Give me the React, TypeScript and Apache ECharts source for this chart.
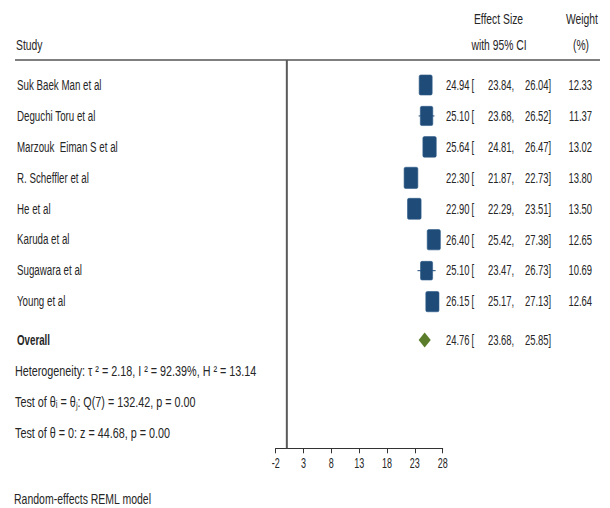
import React, { useEffect, useRef } from "react";
import * as echarts from "echarts";

const studies = [
  "Suk Baek Man et al",
  "Deguchi Toru et al",
  "Marzouk  Eiman S et al",
  "R. Scheffler et al",
  "He et al",
  "Karuda et al",
  "Sugawara et al",
  "Young et al",
];
const effects = [24.94, 25.1, 25.64, 22.3, 22.9, 26.4, 25.1, 26.15];
const lowers = [23.84, 23.68, 24.81, 21.87, 22.29, 25.42, 23.47, 25.17];
const uppers = [26.04, 26.52, 26.47, 22.73, 23.51, 27.38, 26.73, 27.13];
const weights = [12.33, 11.37, 13.02, 13.8, 13.5, 12.65, 10.69, 12.64];

const overallLabel = "Overall";
const overallEffect = 24.76;
const overallLower = 23.68;
const overallUpper = 25.85;
const overallRow = 8.24;

const xTickLabels = [-2, 3, 8, 13, 18, 23, 28];

const statLines = [
  "Heterogeneity: τ ² = 2.18, I ² = 92.39%, H ² = 13.14",
  "Test of θᵢ = θⱼ: Q(7) = 132.42, p = 0.00",
  "Test of θ = 0: z = 44.68, p = 0.00",
];
const footnote = "Random-effects REML model";

const NAVY = "#1f4b78";
const GREEN = "#5b7d2b";
const TXT = "#262626";
const FONT = "'Liberation Sans', Arial, sans-serif";
const FS = 15;
const SX_NUM = 0.63;
const SX_LABEL = 0.65;
const SX_HEAD = 0.69;
const SX_STAT = 0.72;
const Y_MIN = -0.808;
const Y_MAX = 11.74;

function txt(
  text: string,
  x: number,
  y: number,
  sx: number,
  align: string = "left",
  bold: boolean = false,
  fs: number = FS
): any {
  return {
    type: "text",
    x,
    y,
    scaleX: sx,
    silent: true,
    style: {
      text,
      x: 0,
      y: 0,
      fill: TXT,
      fontSize: fs,
      fontFamily: FONT,
      fontWeight: bold ? "bold" : "normal",
      align,
      textAlign: align,
      verticalAlign: "middle",
      textVerticalAlign: "middle",
    },
  };
}

const COL_EST = 446;
const COL_BR = 471.5;
const COL_LO = 488;
const COL_HI = 525;
const COL_W = 592;
const COL_LABEL = 17;

export default function App() {
  const ref = useRef<HTMLDivElement>(null);

  useEffect(() => {
    if (!ref.current) return;
    const chart = echarts.init(ref.current, null, { renderer: "svg" });

    const studyData = studies.map((s, i) => [
      effects[i],
      i,
      lowers[i],
      uppers[i],
      weights[i],
    ]);

    const option: any = {
      animation: false,
      backgroundColor: "#ffffff",
      grid: { left: 275.7, right: 167.3, top: 60, bottom: 59.7 },
      xAxis: {
        type: "value",
        min: xTickLabels[0],
        max: xTickLabels[xTickLabels.length - 1],
        interval: xTickLabels[1] - xTickLabels[0],
        splitLine: { show: false },
        axisLine: { show: true, onZero: false, lineStyle: { color: "#333", width: 1 } },
        axisTick: { show: true, length: 5, lineStyle: { color: "#333", width: 1 } },
        axisLabel: { show: false },
      },
      yAxis: {
        type: "value",
        inverse: true,
        min: Y_MIN,
        max: Y_MAX,
        show: false,
      },
      graphic: [
        {
          type: "line",
          shape: { x1: 15, y1: 60, x2: 600, y2: 60 },
          style: { stroke: "#555", lineWidth: 1.5 },
          silent: true,
        },
        txt("Study", 16, 45, SX_HEAD),
        txt("Effect Size", 498.5, 18.7, SX_HEAD, "center"),
        txt("with 95% CI", 499, 45, SX_HEAD, "center"),
        txt("Weight", 582, 18.7, SX_HEAD, "center"),
        txt("(%)", 581, 45, SX_HEAD, "center"),
        txt(statLines[0], 15, 370.7, SX_STAT),
        txt(statLines[1], 15, 401.7, SX_STAT),
        txt(statLines[2], 15, 433.3, SX_STAT),
        txt(footnote, 14, 499, 0.7),
      ],
      series: [
        {
          type: "line",
          data: [
            [0, Y_MIN],
            [0, Y_MAX],
          ],
          symbol: "none",
          lineStyle: { color: "#5a5a5a", width: 2 },
          silent: true,
          z: 1,
        },
        {
          type: "custom",
          data: xTickLabels.map((v) => [v]),
          silent: true,
          z: 3,
          renderItem: (params: any, api: any) => {
            const v = api.value(0);
            const p = api.coord([v, Y_MAX]);
            return txt(String(v), p[0], p[1] + 14.5, 0.6, "center", false, 15);
          },
        },
        {
          type: "custom",
          data: studyData,
          z: 3,
          renderItem: (params: any, api: any) => {
            const i = params.dataIndex;
            const est = api.value(0);
            const row = api.value(1);
            const lo = api.value(2);
            const hi = api.value(3);
            const w = api.value(4);
            const c = api.coord([est, row]);
            const cl = api.coord([lo, row]);
            const ch = api.coord([hi, row]);
            const bw = 3.7 * Math.sqrt(w);
            const bh = 5.7 * Math.sqrt(w);
            return {
              type: "group",
              children: [
                {
                  type: "line",
                  shape: { x1: cl[0], y1: c[1], x2: ch[0], y2: c[1] },
                  style: { stroke: NAVY, lineWidth: 1 },
                },
                {
                  type: "rect",
                  shape: { x: c[0] - bw / 2, y: c[1] - bh / 2, width: bw, height: bh, r: 1.5 },
                  style: { fill: NAVY, stroke: "#2d5a88", lineWidth: 0.6 },
                },
                txt(studies[i], COL_LABEL, c[1], SX_LABEL),
                txt(est.toFixed(2), COL_EST, c[1], SX_NUM),
                txt("[", COL_BR, c[1], SX_NUM),
                txt(lo.toFixed(2) + ",", COL_LO, c[1], SX_NUM),
                txt(hi.toFixed(2) + "]", COL_HI, c[1], SX_NUM),
                txt(w.toFixed(2), COL_W, c[1], SX_NUM, "right"),
              ],
            };
          },
        },
        {
          type: "custom",
          data: [[overallEffect, overallRow, overallLower, overallUpper]],
          z: 3,
          renderItem: (params: any, api: any) => {
            const est = api.value(0);
            const row = api.value(1);
            const lo = api.value(2);
            const hi = api.value(3);
            const c = api.coord([est, row]);
            const cl = api.coord([lo, row]);
            const ch = api.coord([hi, row]);
            const hh = 7.5;
            return {
              type: "group",
              children: [
                {
                  type: "polygon",
                  shape: {
                    points: [
                      [cl[0], c[1]],
                      [c[0], c[1] - hh],
                      [ch[0], c[1]],
                      [c[0], c[1] + hh],
                    ],
                  },
                  style: { fill: GREEN },
                },
                txt(overallLabel, COL_LABEL, c[1], SX_LABEL, "left", true),
                txt(est.toFixed(2), COL_EST, c[1], SX_NUM),
                txt("[", COL_BR, c[1], SX_NUM),
                txt(lo.toFixed(2) + ",", COL_LO, c[1], SX_NUM),
                txt(hi.toFixed(2) + "]", COL_HI, c[1], SX_NUM),
              ],
            };
          },
        },
      ],
    };

    chart.setOption(option);
    return () => chart.dispose();
  }, []);

  return (
    <div
      ref={ref}
      style={{ position: "fixed", left: 0, top: 0, width: 610, height: 508 }}
    />
  );
}
